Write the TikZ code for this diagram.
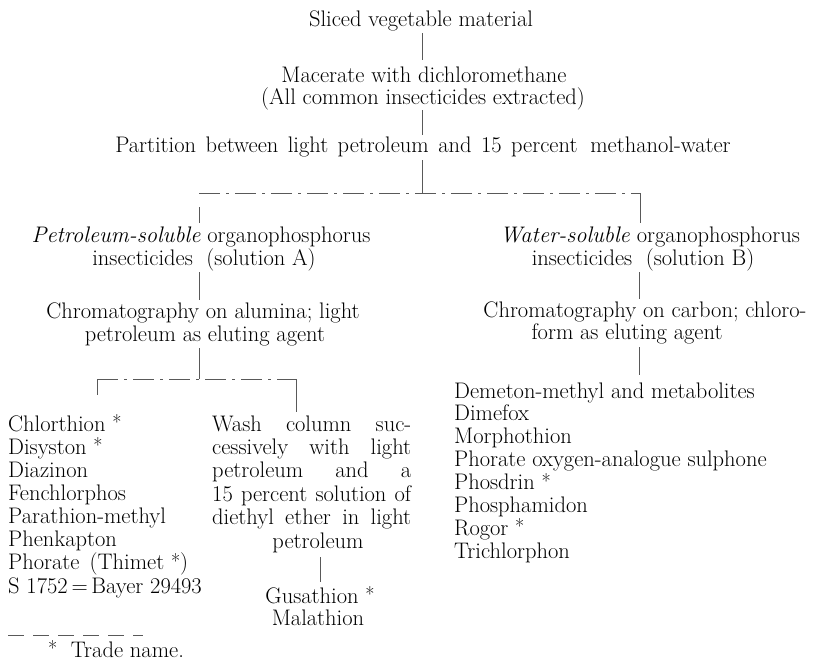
\documentclass[tikz,border=0pt]{standalone}
\usetikzlibrary{calc}
\newcommand{\tradestar}{{\fontsize{20}{20}\selectfont\raisebox{1.5pt}{*}}}
\newcommand{\washline}[1]{{\spaceskip=0.18em plus 1fil\makebox[199pt][s]{#1}}}
\begin{document}
\begin{tikzpicture}[x=1pt,y=-1pt,
  txt/.style={inner xsep=0pt, inner ysep=0pt, text height=16pt, text depth=5pt,
              font=\fontsize{22.5}{23.5}\selectfont},
  ctxt/.style={txt, anchor=base},
  ltxt/.style={txt, anchor=base west},
  conn/.style={draw=black!65, line width=0.8pt},
  brokenline/.style={conn, dash pattern=on 21pt off 6pt on 3pt off 6pt},
  footrule/.style={conn, dash pattern=on 16pt off 9pt}]
\useasboundingbox (0,0) rectangle (820,661);

% ---- trunk ----
\coordinate (tx) at (422,0);
\node[ctxt] (sliced) at (421,27) {Sliced vegetable material};
\node[ctxt] (mac1) at (424,82) {Macerate with dichloromethane};
\node[ctxt] (mac2) at (423,104) {(All common insecticides extracted)};
\node[ctxt] (part) at (423,152) {{\spaceskip=0.42em plus 0.1em Partition between light petroleum and 15 percent \hspace{0.15em}methanol-water}};

\draw[conn, shorten <=1pt, shorten >=6pt] (sliced.south -| tx) -- (mac1.north -| tx);
\draw[conn, shorten <=1pt, shorten >=1pt] (mac2.south -| tx) -- (part.north -| tx);
\coordinate (s1) at (422,193);
\coordinate (s1l) at (199,193);
\coordinate (s1r) at (640,193);
\draw[conn, shorten <=3pt] (part.south -| tx) -- (s1);
\draw[brokenline] (s1l) -- (s1r);

% ---- left branch ----
\node[ctxt] (pet1) at (201,242) {\textit{Petroleum-soluble} organophosphorus};
\node[ctxt] (pet2) at (204,265) {insecticides\ \ (solution A)};
\node[ctxt] (chr1) at (203,318) {Chromatography on alumina; light};
\node[ctxt] (chr2) at (205,341) {petroleum as eluting agent};
\draw[conn, shorten <=14pt, shorten >=3pt] (s1l) -- (pet1.north -| s1l);
\draw[conn, shorten <=2pt, shorten >=2pt] (pet2.south -| s1l) -- (chr1.north -| s1l);
\coordinate (s2) at (199,379);
\coordinate (s2l) at (97,379);
\coordinate (s2r) at (296,379);
\draw[conn, shorten <=2pt] (chr2.south -| s2) -- (s2);
\draw[brokenline] (s2l) -- (s2r);

% left list
\foreach \t [count=\k] in {Chlorthion \tradestar, Disyston \tradestar, Diazinon, Fenchlorphos,
  Parathion-methyl, Phenkapton, Phorate\hspace{0.45em}(Thimet \tradestar),
  S 1752\,=\,Bayer 29493}
  \node[ltxt] (l\k) at (8,{431+23.15*(\k-1)}) {\t};
\draw[conn, shorten >=20pt] (s2l) -- (l1.north -| s2l);

% wash box
\node[ltxt] (w1) at (212,431) {\washline{Wash column suc-}};
\node[ltxt] (w2) at (212,454.4) {\washline{cessively with light}};
\node[ltxt] (w3) at (212,477.8) {\washline{petroleum and a}};
\node[ltxt] (w4) at (212,501.2) {\washline{15 percent solution of}};
\node[ltxt] (w5) at (212,524.6) {\washline{diethyl ether in light}};
\node[ctxt] (w6) at (318,548) {petroleum};
\draw[conn, shorten >=3pt] (s2r) -- (w1.north -| s2r);
\coordinate (gx) at (320,0);
\node[ctxt] (gus) at (320,603) {Gusathion \tradestar};
\node[ctxt] (mal) at (318,625) {Malathion};
\draw[conn, shorten <=4pt, shorten >=5pt] (w6.south -| gx) -- (gus.north -| gx);

% footnote
\coordinate (fa) at (8,635);
\coordinate (fb) at (143,635);
\draw[footrule] (fa) -- (fb);
\node[ltxt] (foot) at (48,657) {\tradestar\ \ Trade name.};

% ---- right branch ----
\coordinate (rx) at (639,0);
\node[ctxt] (wat1) at (650,242) {\textit{Water-soluble} organophosphorus};
\node[ctxt] (wat2) at (643,265) {insecticides\ \ (solution B)};
\node[ctxt] (chc1) at (645,317) {Chromatography on carbon; chloro-};
\node[ctxt] (chc2) at (627,339) {form as eluting agent};
\draw[conn, shorten >=3pt] (s1r) -- (wat1.north -| s1r);
\draw[conn, shorten <=2pt, shorten >=2pt] (wat2.south -| rx) -- (chc1.north -| rx);

\foreach \t [count=\k] in {Demeton-methyl and metabolites, Dimefox, Morphothion,
  Phorate oxygen-analogue sulphone, Phosdrin \tradestar, Phosphamidon, Rogor \tradestar, Trichlorphon}
  \node[ltxt] (r\k) at (454,{398+22.9*(\k-1)}) {\t};
\draw[conn, shorten <=3pt, shorten >=7pt] (chc2.south -| rx) -- (r1.north -| rx);
\end{tikzpicture}
\end{document}
